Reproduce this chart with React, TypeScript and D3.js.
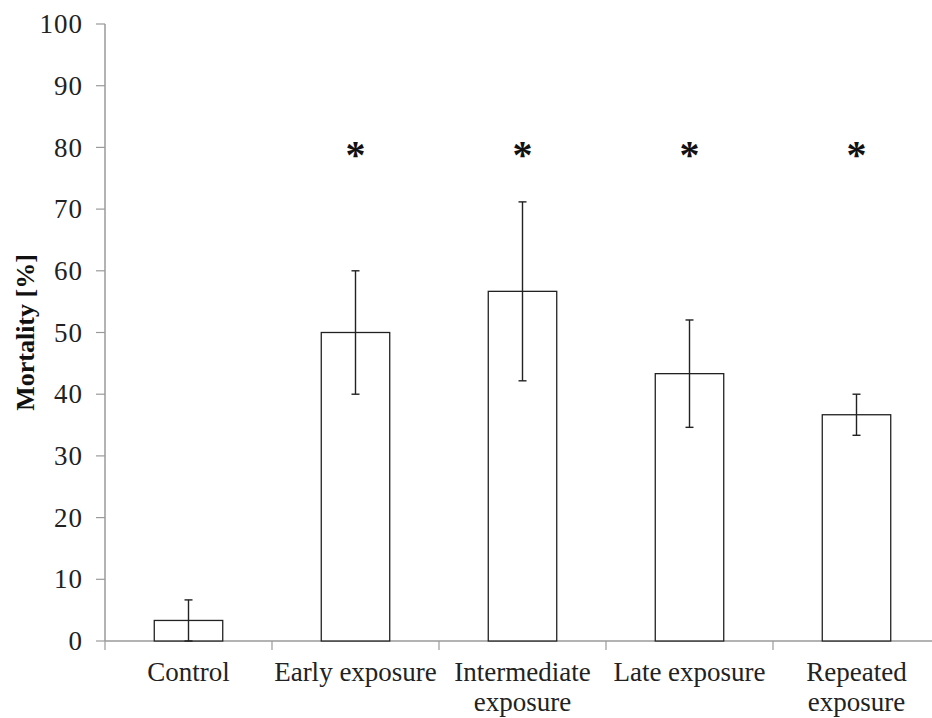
import { useEffect, useRef } from 'react';
import * as d3 from 'd3';

// data
const categories = ['Control', 'Early exposure', 'Intermediate exposure', 'Late exposure', 'Repeated exposure'];
const labelLines = [['Control'], ['Early exposure'], ['Intermediate', 'exposure'], ['Late exposure'], ['Repeated', 'exposure']];
const mortality = [3.33, 50, 56.67, 43.33, 36.67];
const errors = [3.33, 10, 14.5, 8.7, 3.33];
const significant = [false, true, true, true, true];
const sigLevel = 80;
const yTicks = [0, 10, 20, 30, 40, 50, 60, 70, 80, 90, 100];

const MortalityChart = () => {
  const svgRef = useRef<SVGSVGElement | null>(null);

  useEffect(() => {
    const svg = d3.select(svgRef.current);
    svg.selectAll('*').remove();

    const width = 932;
    const height = 718;
    const margin = { top: 24, right: -8, bottom: 77, left: 105 };
    const font = '"Liberation Serif", "Times New Roman", serif';
    const axisColor = '#9a9a9a';

    const x = d3.scaleBand()
      .domain(categories)
      .range([margin.left, width - margin.right])
      .paddingInner(0.59)
      .paddingOuter(0.295);

    const y = d3.scaleLinear()
      .domain([0, 100])
      .range([height - margin.bottom, margin.top]);

    // full band for category ticks
    const step = x.step();
    const x0 = margin.left;

    // y axis
    const yAxis = svg.append('g').attr('transform', `translate(${x0},0)`);
    yAxis.append('line')
      .attr('x1', 0).attr('x2', 0)
      .attr('y1', y(0)).attr('y2', y(100))
      .attr('stroke', axisColor).attr('stroke-width', 1.5);
    yTicks.forEach(t => {
      yAxis.append('line')
        .attr('x1', -9).attr('x2', 0)
        .attr('y1', y(t)).attr('y2', y(t))
        .attr('stroke', axisColor).attr('stroke-width', 1.2);
      yAxis.append('text')
        .attr('x', -22)
        .attr('y', y(t))
        .attr('dy', '0.34em')
        .attr('text-anchor', 'end')
        .style('font-family', font)
        .style('font-size', '27px')
        .style('letter-spacing', '1px')
        .attr('fill', '#222')
        .text(t);
    });

    // x axis
    const xAxis = svg.append('g');
    xAxis.append('line')
      .attr('x1', x0).attr('x2', x0 + step * categories.length)
      .attr('y1', y(0)).attr('y2', y(0))
      .attr('stroke', axisColor).attr('stroke-width', 1.5);
    d3.range(categories.length + 1).forEach(i => {
      xAxis.append('line')
        .attr('x1', x0 + i * step).attr('x2', x0 + i * step)
        .attr('y1', y(0)).attr('y2', y(0) + 9)
        .attr('stroke', axisColor).attr('stroke-width', 1.2);
    });

    // bars
    svg.append('g')
      .selectAll('rect')
      .data(categories)
      .join('rect')
      .attr('x', d => x(d)!)
      .attr('y', (d, i) => y(mortality[i]))
      .attr('width', x.bandwidth())
      .attr('height', (d, i) => y(0) - y(mortality[i]))
      .attr('fill', '#fff')
      .attr('stroke', '#222')
      .attr('stroke-width', 1.3);

    // error bars
    const eb = svg.append('g').attr('stroke', '#222').attr('stroke-width', 1.4);
    categories.forEach((c, i) => {
      const cx = x(c)! + x.bandwidth() / 2;
      const hi = y(mortality[i] + errors[i]);
      const lo = y(Math.max(0, mortality[i] - errors[i]));
      eb.append('line').attr('x1', cx).attr('x2', cx).attr('y1', hi).attr('y2', lo);
      eb.append('line').attr('x1', cx - 4).attr('x2', cx + 4).attr('y1', hi).attr('y2', hi);
      eb.append('line').attr('x1', cx - 4).attr('x2', cx + 4).attr('y1', lo).attr('y2', lo);
    });

    // significance markers
    svg.append('g')
      .selectAll('text')
      .data(categories.filter((c, i) => significant[i]))
      .join('text')
      .attr('x', d => x(d)! + x.bandwidth() / 2)
      .attr('y', y(sigLevel))
      .attr('dy', '0.52em')
      .attr('text-anchor', 'middle')
      .style('font-family', font)
      .style('font-size', '40px')
      .style('font-weight', 'bold')
      .attr('fill', '#111')
      .text('*');

    // category labels
    const labels = svg.append('g');
    categories.forEach((c, i) => {
      const t = labels.append('text')
        .attr('x', x(c)! + x.bandwidth() / 2)
        .attr('y', y(0) + 40)
        .attr('text-anchor', 'middle')
        .style('font-family', font)
        .style('font-size', '27px')
        .attr('fill', '#222');
      labelLines[i].forEach((line, j) => {
        t.append('tspan')
          .attr('x', x(c)! + x.bandwidth() / 2)
          .attr('dy', j === 0 ? 0 : 30)
          .text(line);
      });
    });

    // y label
    svg.append('text')
      .attr('transform', `translate(34,${(y(0) + y(100)) / 2}) rotate(-90)`)
      .attr('text-anchor', 'middle')
      .style('font-family', font)
      .style('font-size', '26px')
      .style('font-weight', 'bold')
      .attr('fill', '#111')
      .text('Mortality [%]');
  }, []);

  return (
    <svg
      ref={svgRef}
      width={932}
      height={718}
      style={{ position: 'absolute', left: 0, top: 0, background: '#fff' }}
    />
  );
};

export default function App() {
  return <MortalityChart />;
}
